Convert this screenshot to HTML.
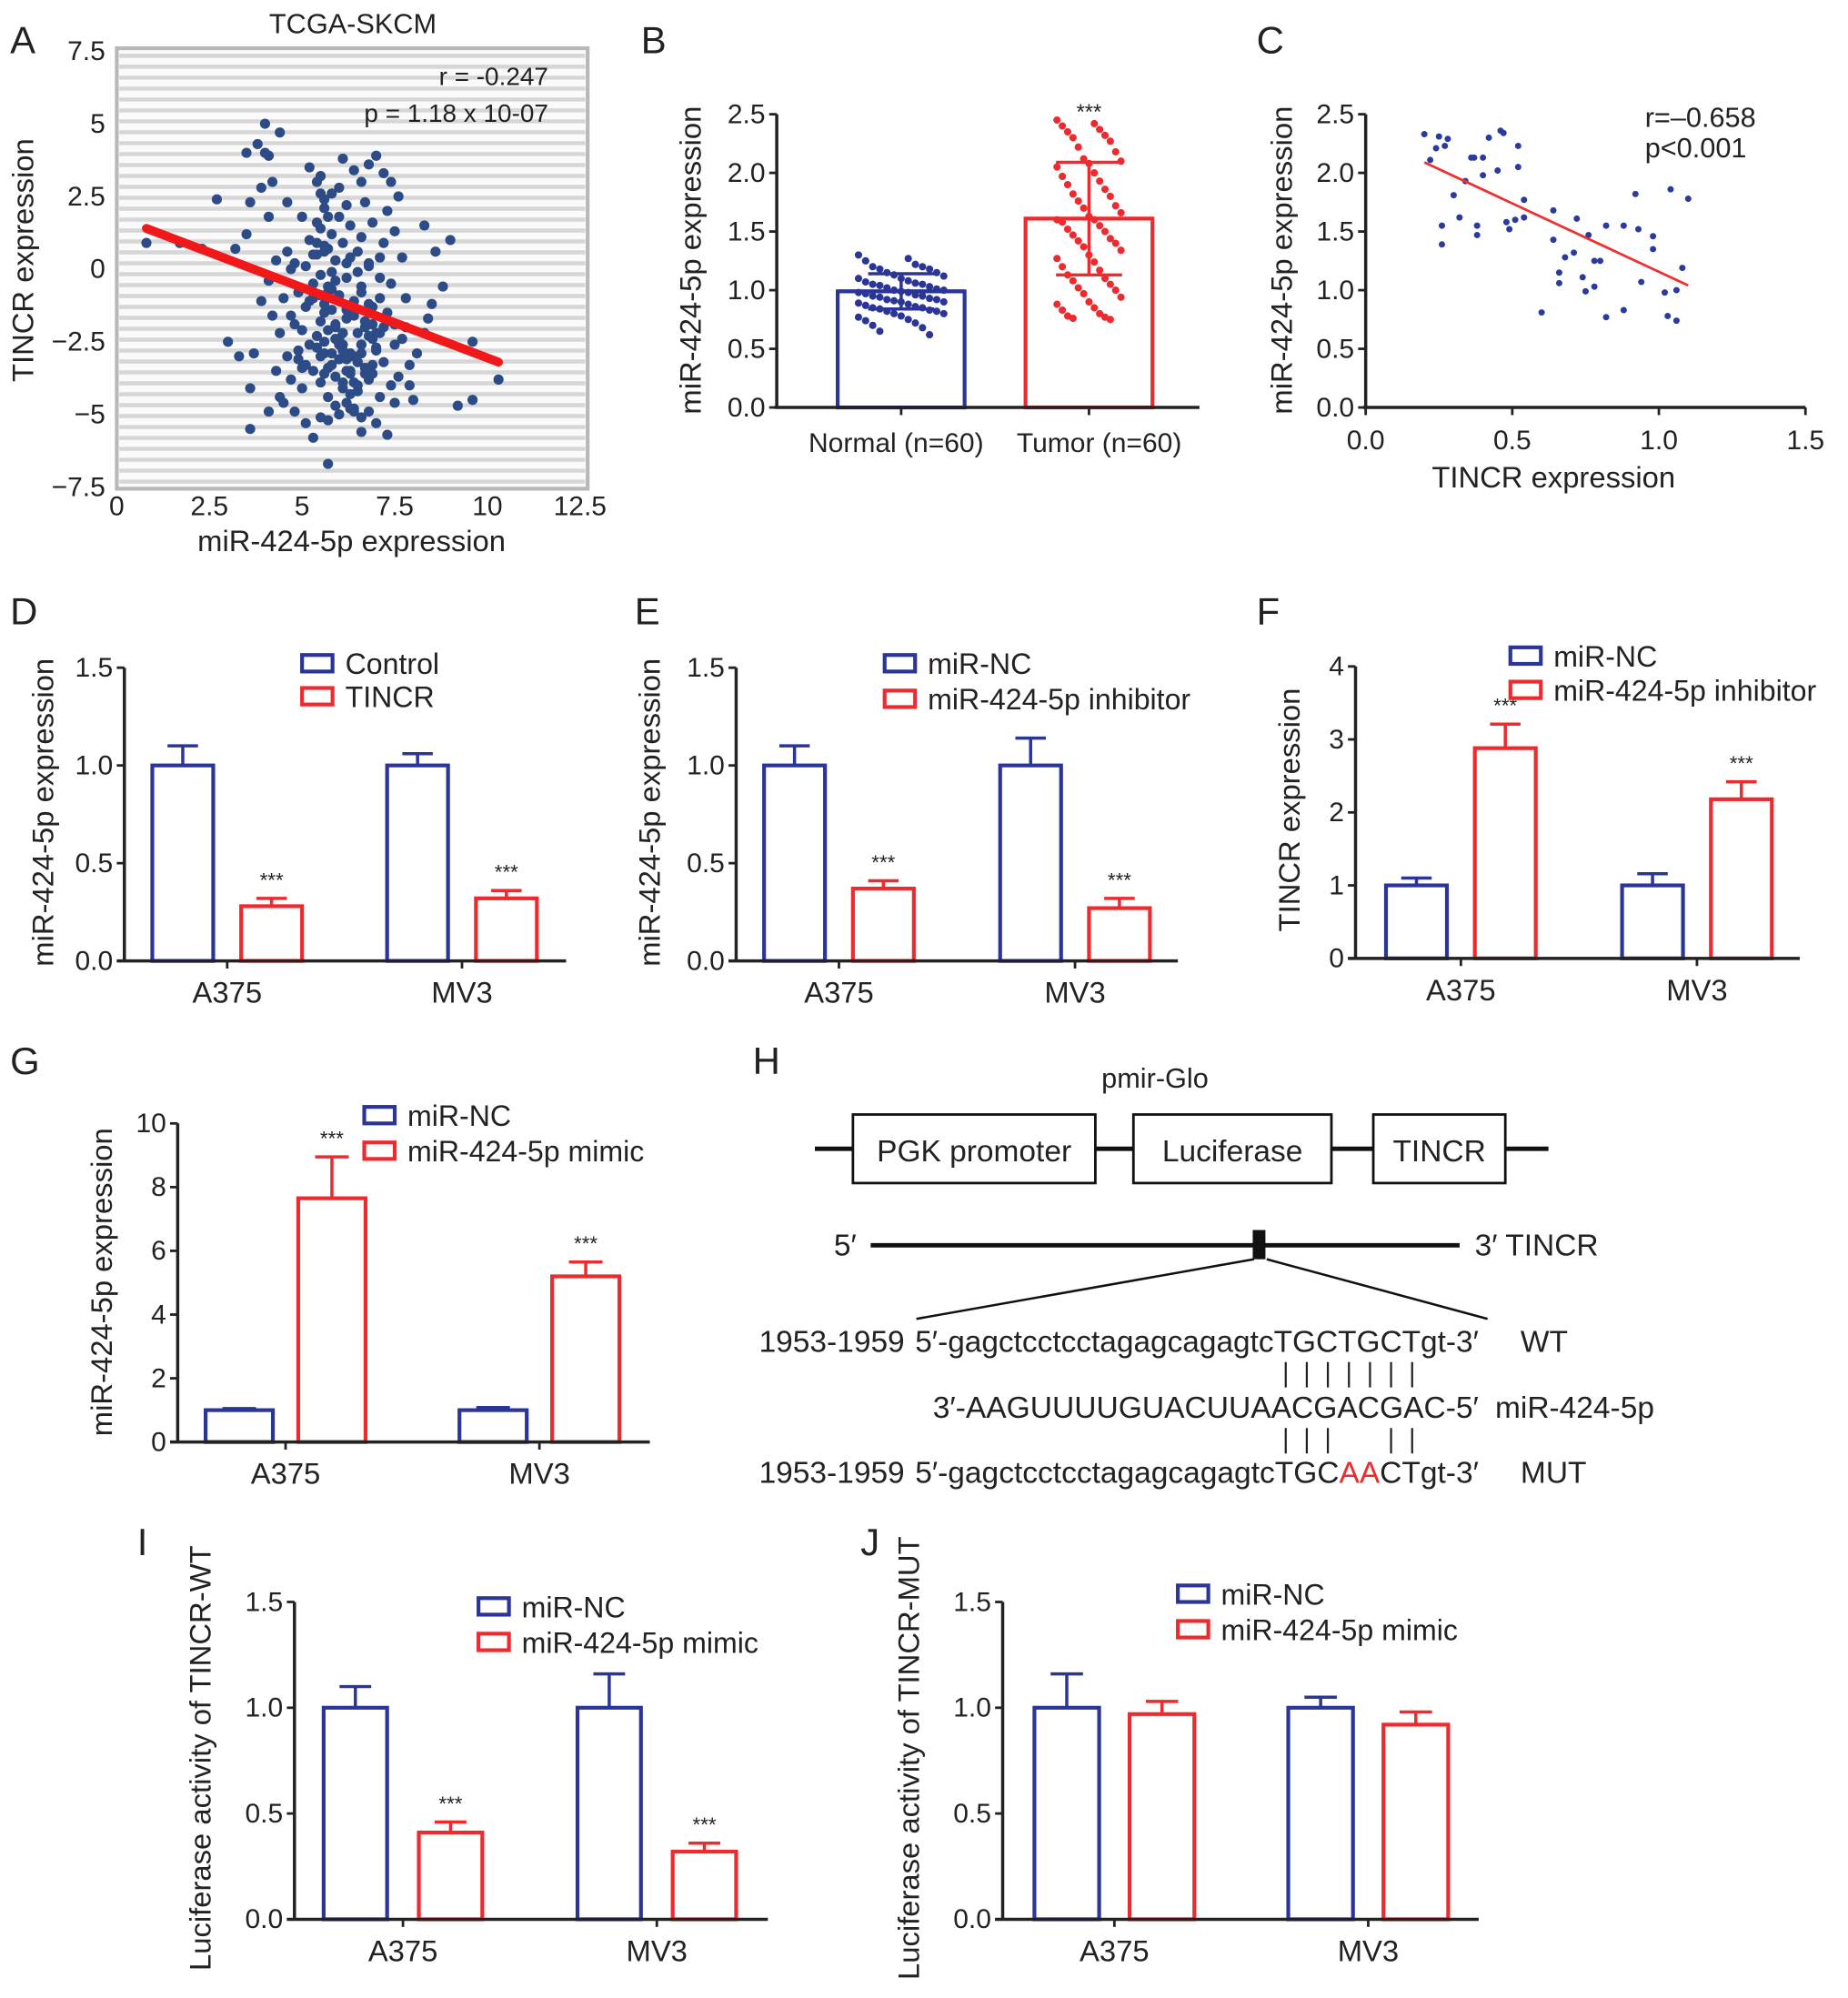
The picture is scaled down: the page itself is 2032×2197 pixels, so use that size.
<!DOCTYPE html>
<html><head><meta charset="utf-8"><style>
html,body{margin:0;padding:0;background:#fff;}
svg{display:block;font-family:"Liberation Sans",Arial,sans-serif;}
</style></head><body>
<svg id="fig" width="2032" height="2197" viewBox="0 0 1456 1574" preserveAspectRatio="none" xmlns="http://www.w3.org/2000/svg"></svg>
<script>
// ---------- Panel A data ----------
const aX=[0.8,1.7,2.3,2.7,3.2,3.0,3.3,3.6,3.6,3.7,3.5,3.6,3.5,3.8,4.0,4.0,4.1,4.4,3.9,4.1,4.2,4.6,4.1,4.3,4.4,4.5,4.6,4.2,4.4,3.9,4.1,4.3,4.6,4.8,4.9,4.7,4.9,5.0,4.8,5.1,5.3,5.7,5.5,5.2,5.4,5.5,5.6,5.4,5.2,5.3,5.5,5.3,5.6,5.4,5.6,5.3,5.5,5.7,5.9,5.8,5.9,5.7,5.9,6.0,5.8,6.1,6.0,6.2,6.3,6.1,6.2,6.4,6.1,6.3,6.5,6.2,6.6,6.5,6.7,6.4,6.6,6.8,6.7,6.9,6.6,6.8,6.6,6.9,7.0,6.8,7.1,7.0,7.3,7.0,7.2,7.4,7.3,7.2,7.4,7.3,7.5,7.2,7.6,7.5,7.6,7.5,7.7,7.8,7.8,7.9,7.9,8.0,8.1,8.3,8.4,8.5,8.3,8.6,8.8,9.0,9.6,9.2,9.6,10.3,5.0,5.1,5.0,5.7,6.0,6.2,6.3,6.5,6.7,6.9,7.1,7.1,5.8,6.0,5.6,6.3,6.6,6.1,5.9,5.4,4.7,4.5,6.8,7.4,5.2,6.4,
5.5,5.6,5.7,5.5,5.6,5.8,5.7,5.6,5.8,5.9,6.0,6.1,6.2,6.3,6.4,6.5,6.6,6.7,6.8,6.9,7.0,5.4,5.5,5.7,5.9,6.1,6.3,6.5,6.7,6.9,5.6,5.8,6.0,6.2,6.4,6.6,6.8,7.0,7.2,5.5,5.7,5.9,6.1,6.3,6.5,6.7,6.9,7.1,5.3,5.5,5.8,6.0,6.2,6.4,6.6,6.8,5.1,5.4,5.6,5.9,6.2,6.5,6.8,7.1,4.8,5.0,5.2,7.3,7.5,4.9,5.1,7.7,4.7,6.3,6.0,5.7,6.6,6.4];
const aY=[0.9,0.9,0.7,2.4,0.7,-2.5,-3.0,-5.5,-4.1,-2.9,1.2,2.3,4.0,4.3,5.0,4.0,3.9,4.7,2.8,1.8,3.0,2.3,-4.9,-3.5,-4.4,-4.6,-3.0,-1.6,-2.2,-1.1,-0.4,0.3,0.6,0.2,-0.8,-1.6,-2.8,-4.1,-4.9,-5.3,-5.8,-6.7,-5.1,3.5,3.0,2.6,2.1,1.6,1.0,0.5,-0.2,-1.0,-1.5,-2.3,-2.9,-3.5,-3.9,-4.4,-4.7,1.2,0.3,-0.6,-1.9,-2.6,-3.3,3.8,2.8,2.2,1.5,0.9,-0.3,-1.1,-3.9,-3.0,-2.2,-4.6,-5.6,-4.2,-3.4,3.4,3.0,3.6,2.3,1.6,1.1,0.2,-0.6,-1.3,-2.8,-3.8,-4.4,-5.3,-5.7,3.9,3.3,3.0,2.0,0.9,-0.5,-1.8,-2.6,-3.2,-3.7,-4.6,2.5,1.3,0.4,-1.0,-2.0,-3.3,-4.0,-4.5,-2.9,-2.2,-1.7,-1.2,1.5,0.6,-0.6,1.0,-2.5,-4.7,-4.5,-3.8,1.8,-1.3,-3.4,0.7,-0.9,-1.7,0.4,-0.1,-1.8,-2.4,-1.0,0.4,2.6,1.8,-3.6,-3.5,-2.9,-2.2,-0.4,0.9,-3.8,-1.0,-4.9,-4.0,-2.6,-4.9,
3.2,2.4,1.8,1.4,0.6,-0.1,-0.8,-1.2,-1.4,-2.0,-2.4,-2.8,-3.1,-3.6,-3.9,-3.2,-2.6,-2.0,-1.5,-1.9,-2.2,-2.7,-3.0,-3.4,-3.7,-4.1,-4.3,-4.0,-3.6,-3.3,-2.5,-2.9,-3.1,-3.5,-3.0,-2.6,-2.3,-2.7,-2.0,-1.8,-2.1,-2.4,-2.6,-2.9,-3.2,-3.4,-3.6,-2.2,-0.5,-0.9,-0.7,-1.1,-1.4,-1.6,-0.8,-1.2,0.1,0.5,0.8,0.3,0.2,0.6,0.1,-0.3,-1.9,-2.1,-1.1,-1.5,-1.9,-3.1,-3.3,-2.4,0.0,-4.8,-5.0,-5.2,-5.1,-4.8];
const aFitX=[0.8,10.3];
const aFitY=[1.4,-3.2];
const aXTicks=[0,2.5,5,7.5,10,12.5];
const aXTickLabels=["0","2.5","5","7.5","10","12.5"];
const aYTicks=[7.5,5,2.5,0,-2.5,-5,-7.5];
const aYTickLabels=["7.5","5","2.5","0","\u22122.5","\u22125","\u22127.5"];
// ---------- Panel B data ----------
const bCats=["Normal (n=60)","Tumor (n=60)"];
const bMeans=[0.99,1.61];
const bSD=[0.15,0.48];
const bNormal=[1.3,1.27,1.25,1.22,1.2,1.2,1.18,1.18,1.15,1.15,1.13,1.12,1.1,1.1,1.08,1.07,1.06,1.05,1.05,1.04,1.03,1.02,1.01,1.0,1.0,0.99,0.98,0.98,0.97,0.96,0.95,0.95,0.94,0.93,0.92,0.92,0.91,0.9,0.9,0.89,0.88,0.87,0.86,0.85,0.85,0.84,0.83,0.82,0.82,0.8,0.8,0.78,0.77,0.75,0.74,0.72,0.7,0.68,0.65,0.62];
const bTumor=[2.45,2.42,2.4,2.37,2.35,2.32,2.3,2.27,2.22,2.18,2.12,2.1,2.08,2.05,2.0,1.97,1.93,1.9,1.86,1.82,1.8,1.76,1.72,1.7,1.66,1.63,1.6,1.6,1.58,1.55,1.52,1.5,1.47,1.44,1.42,1.4,1.37,1.34,1.3,1.27,1.24,1.2,1.17,1.13,1.1,1.08,1.05,1.02,1.0,0.97,0.94,0.9,0.88,0.85,0.83,0.8,0.78,0.77,0.76,0.75];
const bYTicks=[0,0.5,1,1.5,2,2.5];
const bYTickLabels=["0.0","0.5","1.0","1.5","2.0","2.5"];
// ---------- Panel C data ----------
const cX=[0.2,0.22,0.24,0.25,0.28,0.27,0.3,0.26,0.26,0.34,0.32,0.36,0.37,0.38,0.38,0.4,0.4,0.42,0.45,0.46,0.47,0.52,0.52,0.48,0.49,0.51,0.54,0.54,0.6,0.64,0.64,0.66,0.66,0.68,0.71,0.72,0.74,0.75,0.76,0.78,0.78,0.8,0.82,0.82,0.88,0.88,0.92,0.93,0.94,0.98,0.98,1.02,1.03,1.04,1.06,1.06,1.08,1.1];
const cY=[2.33,2.11,2.21,2.31,2.29,2.23,1.81,1.55,1.39,1.93,1.62,2.13,2.13,1.55,1.47,2.13,1.98,2.3,2.02,2.36,2.34,2.23,2.05,1.58,1.52,1.6,1.77,1.62,0.81,1.68,1.43,1.15,1.06,1.28,1.32,1.61,1.11,0.99,1.47,1.03,1.25,1.25,1.55,0.77,0.83,1.55,1.82,1.52,1.07,1.46,1.35,0.98,0.78,1.86,1.0,0.74,1.19,1.78];
const cFitX=[0.2,1.1];
const cFitY=[2.09,1.04];
const cXTicks=[0,0.5,1,1.5];
const cXTickLabels=["0.0","0.5","1.0","1.5"];
const cYTicks=[0,0.5,1,1.5,2,2.5];
const cYTickLabels=["0.0","0.5","1.0","1.5","2.0","2.5"];
// ---------- Bar panels ----------
const barCats=["A375","MV3"];
const dCtrl=[1.0,1.0], dCtrlErr=[0.1,0.06], dTin=[0.28,0.32], dTinErr=[0.04,0.04];
const eNC=[1.0,1.0], eNCErr=[0.1,0.14], eInh=[0.37,0.27], eInhErr=[0.04,0.05];
const fNC=[1.0,1.0], fNCErr=[0.1,0.16], fInh=[2.88,2.18], fInhErr=[0.33,0.24];
const gNC=[1.0,1.0], gNCErr=[0.05,0.08], gMim=[7.65,5.2], gMimErr=[1.3,0.45];
const iNC=[1.0,1.0], iNCErr=[0.1,0.16], iMim=[0.41,0.32], iMimErr=[0.05,0.04];
const jNC=[1.0,1.0], jNCErr=[0.16,0.05], jMim=[0.97,0.92], jMimErr=[0.06,0.06];
const tick15=[0,0.5,1,1.5], tick15L=["0.0","0.5","1.0","1.5"];
const tick4=[0,1,2,3,4], tick4L=["0","1","2","3","4"];
const tick10=[0,2,4,6,8,10], tick10L=["0","2","4","6","8","10"];

const NS="http://www.w3.org/2000/svg";
const svg=document.getElementById('fig');
const BLUE="#2b3598", RED="#ee2a2e", DOT="#2c4b87";
const TK=21.5, AT=23.5, LG=23;
function el(tag,attrs,parent){const e=document.createElementNS(NS,tag);for(const k in attrs)e.setAttribute(k,attrs[k]);(parent||svg).appendChild(e);return e;}
function txt(s,x,y,size,anchor,parent,extra){const t=el('text',Object.assign({x:x,y:y,'font-size':size,'text-anchor':anchor||'start',fill:'#222'},extra||{}),parent);t.textContent=s;return t;}
function grp(name){const g=el('g',{});return g;}

const letters=[["A",8,42],["B",505,42],["C",990,42],["D",8,492],["E",500,492],["F",990,492],["G",8,846],["H",593,846],["I",108,1225],["J",678,1225]];
letters.forEach(l=>{const t=txt(l[0],l[1],l[2],30,'start');});

function yTitle(s,x,y,g){const t=txt(s,x,y,AT,'middle',g,{transform:'rotate(-90 '+x+' '+y+')'});return t;}

// ===== Panel A =====
(function(){
 const g=grp('panel-a-scatter');
 const L=92,R=463,T=38,B=385;
 const sx=v=>92+v*29.2;
 const sy=v=>212-v*22.9;
 el('rect',{x:L,y:T,width:R-L,height:B-T,fill:'#fafafa',stroke:'#b8b8b8','stroke-width':3},g);
 for(let y=T+6;y<B;y+=8.6){el('line',{x1:L+2,x2:R-2,y1:y,y2:y,stroke:'#d6d6d6','stroke-width':3.2},g);}
 aXTicks.forEach((v,i)=>{const t=txt(aXTickLabels[i],sx(v),406,TK,'middle',g);});
 aYTicks.forEach((v,i)=>{const t=txt(aYTickLabels[i],83,sy(v)+7,TK,'end',g);});
 const tt=txt('TCGA-SKCM',278,26,22,'middle',g);
 const xt=txt('miR-424-5p expression',277,434,AT,'middle',g);
 yTitle('TINCR expression',26,205,g);
 aX.forEach((x,i)=>{const c=el('circle',{cx:sx(x),cy:sy(aY[i]),r:4,fill:DOT},g);});
 const ln=el('line',{x1:sx(aFitX[0]),y1:sy(aFitY[0]),x2:sx(aFitX[1]),y2:sy(aFitY[1]),stroke:'#f01818','stroke-width':7,'stroke-linecap':'round'},g);
 
 const s1=txt('r = -0.247',432,67,20,'end',g);
 const s2=txt('p = 1.18 x 10-07',432,96,20,'end',g);
})();

// ===== Panel B =====
(function(){
 const g=grp('panel-b-bar-dot');
 const ax=612,y0=321,top=90;
 const sy=v=>y0-v*(y0-top)/2.5;
 const centers=[710,858];
 const labelX=[706,866];
 const cols=[BLUE,RED];
 bMeans.forEach((m,i)=>{
  const r=el('rect',{x:centers[i]-50,y:sy(m),width:100,height:y0-sy(m),fill:'none',stroke:cols[i],'stroke-width':3},g);
  
 });
 [bNormal,bTumor].forEach((arr,k)=>{
  arr.forEach((v,i)=>{const off=((i*7)%13-6)*(k?4.2:5.6);const c=el('circle',{cx:centers[k]+off,cy:sy(v),r:2.9,fill:cols[k]},g);});
 });
 bMeans.forEach((m,i)=>{
  const c=centers[i],hi=sy(m+bSD[i]),lo=sy(m-bSD[i]);
  el('line',{x1:c,x2:c,y1:hi,y2:lo,stroke:cols[i],'stroke-width':2.5},g);
  el('line',{x1:c-26,x2:c+26,y1:hi,y2:hi,stroke:cols[i],'stroke-width':2.5},g);
  el('line',{x1:c-26,x2:c+26,y1:lo,y2:lo,stroke:cols[i],'stroke-width':2.5},g);
  el('line',{x1:c-50,x2:c+50,y1:sy(m),y2:sy(m),stroke:cols[i],'stroke-width':3},g);
 });
 const st=txt('***',858,sy(2.5)+4,17,'middle',g);
 el('line',{x1:ax,x2:ax,y1:top,y2:y0+1,stroke:'#222','stroke-width':2.5},g);
 el('line',{x1:ax-2,x2:945,y1:y0,y2:y0,stroke:'#222','stroke-width':2.5},g);
 bYTicks.forEach((v,i)=>{el('line',{x1:ax-6,x2:ax,y1:sy(v),y2:sy(v),stroke:'#222','stroke-width':2},g);const t=txt(bYTickLabels[i],ax-9,sy(v)+7,TK,'end',g);});
 bCats.forEach((c,i)=>{el('line',{x1:centers[i],x2:centers[i],y1:y0,y2:y0+6,stroke:'#222','stroke-width':2},g);const t=txt(c,labelX[i],356,21.5,'middle',g);});
 yTitle('miR-424-5p expression',552,205,g);
})();

// ===== Panel C =====
(function(){
 const g=grp('panel-c-scatter');
 const ax=1076,y0=321,top=90;
 const sx=v=>ax+v*231;
 const sy=v=>y0-v*(y0-top)/2.5;
 cX.forEach((x,i)=>{const c=el('circle',{cx:sx(x),cy:sy(cY[i]),r:2.5,fill:'#2a3a9e'},g);});
 const ln=el('line',{x1:sx(cFitX[0]),y1:sy(cFitY[0]),x2:sx(cFitX[1]),y2:sy(cFitY[1]),stroke:'#ee3030','stroke-width':2},g);
 
 el('line',{x1:ax,x2:ax,y1:top,y2:y0+1,stroke:'#222','stroke-width':2.5},g);
 el('line',{x1:ax-2,x2:sx(1.5),y1:y0,y2:y0,stroke:'#222','stroke-width':2.5},g);
 cYTicks.forEach((v,i)=>{el('line',{x1:ax-6,x2:ax,y1:sy(v),y2:sy(v),stroke:'#222','stroke-width':2},g);const t=txt(cYTickLabels[i],ax-9,sy(v)+7,TK,'end',g);});
 cXTicks.forEach((v,i)=>{el('line',{x1:sx(v),x2:sx(v),y1:y0,y2:y0+6,stroke:'#222','stroke-width':2},g);const t=txt(cXTickLabels[i],sx(v),354,TK,'middle',g);});
 const xt=txt('TINCR expression',1224,384,AT,'middle',g);
 yTitle('miR-424-5p expression',1018,205,g);
 const s1=txt('r=\u20130.658',1296,100,22,'start',g);
 const s2=txt('p<0.001',1296,124,22,'start',g);
})();

// ===== generic bar chart =====
function barChart(o){
 const g=grp(o.name);
 const sy=v=>o.y0-v*(o.y0-o.top)/o.ymax;
 const series=[[o.s1,o.e1,BLUE],[o.s2,o.e2,RED]];
 barCats.forEach((cat,gi)=>{
  series.forEach((s,si)=>{
   const x=o.bx0+gi*o.step+si*o.off, v=s[0][gi], e=s[1][gi], cx=x+o.bw/2;
   el('line',{x1:cx,x2:cx,y1:sy(v),y2:sy(v+e),stroke:s[2],'stroke-width':2.5},g);
   el('line',{x1:cx-o.bw*0.25,x2:cx+o.bw*0.25,y1:sy(v+e),y2:sy(v+e),stroke:s[2],'stroke-width':2.5},g);
   const r=el('rect',{x:x,y:sy(v),width:o.bw,height:o.y0-sy(v),fill:'none',stroke:s[2],'stroke-width':3},g);
   
   
   if(si==1 && o.stars){const t=txt('***',cx,sy(v+e)-9,16,'middle',g);}
  });
  const tc=o.bx0+gi*o.step+(o.off+o.bw)/2;
  el('line',{x1:tc,x2:tc,y1:o.y0,y2:o.y0+6,stroke:'#222','stroke-width':2},g);
  const t=txt(cat,tc,o.y0+33,AT,'middle',g);
 });
 el('line',{x1:o.ax,x2:o.ax,y1:o.top,y2:o.y0+1,stroke:'#222','stroke-width':2.5},g);
 el('line',{x1:o.ax-6,x2:o.xend,y1:o.y0,y2:o.y0,stroke:'#222','stroke-width':2.5},g);
 o.ticks.forEach((v,i)=>{el('line',{x1:o.ax-6,x2:o.ax,y1:sy(v),y2:sy(v),stroke:'#222','stroke-width':2},g);const t=txt(o.tickL[i],o.ax-9,sy(v)+7,TK,'end',g);});
 yTitle(o.ytitle,o.ytx,o.yty,g);
 [[o.leg1,BLUE,0],[o.leg2,RED,1]].forEach(l=>{
  const lg=el('g',{},g);
  el('rect',{x:o.lx,y:o.ly+l[2]*o.lgap-12,width:24,height:13,fill:'none',stroke:l[1],'stroke-width':3},lg);
  txt(l[0],o.lx+34,o.ly+l[2]*o.lgap+3,LG,'start',lg);
 });
}
barChart({name:'panel-d-bar-chart',s1:dCtrl,e1:dCtrlErr,s2:dTin,e2:dTinErr,stars:true,ax:98,y0:757,top:526,ymax:1.5,xend:446,bx0:120,bw:48,off:70,step:185,ticks:tick15,tickL:tick15L,ytitle:'miR-424-5p expression',ytx:42,yty:640,leg1:'Control',leg2:'TINCR',lx:238,ly:528,lgap:26});
barChart({name:'panel-e-bar-chart',s1:eNC,e1:eNCErr,s2:eInh,e2:eInhErr,stars:true,ax:580,y0:757,top:526,ymax:1.5,xend:928,bx0:602,bw:48,off:70,step:186,ticks:tick15,tickL:tick15L,ytitle:'miR-424-5p expression',ytx:520,yty:640,leg1:'miR-NC',leg2:'miR-424-5p inhibitor',lx:697,ly:528,lgap:28});
barChart({name:'panel-f-bar-chart',s1:fNC,e1:fNCErr,s2:fInh,e2:fInhErr,stars:true,ax:1068,y0:755,top:525,ymax:4,xend:1418,bx0:1092,bw:48,off:70,step:186,ticks:tick4,tickL:tick4L,ytitle:'TINCR expression',ytx:1024,yty:638,leg1:'miR-NC',leg2:'miR-424-5p inhibitor',lx:1190,ly:522,lgap:27});
barChart({name:'panel-g-bar-chart',s1:gNC,e1:gNCErr,s2:gMim,e2:gMimErr,stars:true,ax:140,y0:1136,top:885,ymax:10,xend:512,bx0:162,bw:53,off:73,step:200,ticks:tick10,tickL:tick10L,ytitle:'miR-424-5p expression',ytx:88,yty:1010,leg1:'miR-NC',leg2:'miR-424-5p mimic',lx:287,ly:884,lgap:28});
barChart({name:'panel-i-bar-chart',s1:iNC,e1:iNCErr,s2:iMim,e2:iMimErr,stars:true,ax:232,y0:1512,top:1262,ymax:1.5,xend:605,bx0:255,bw:50,off:75,step:200,ticks:tick15,tickL:tick15L,ytitle:'Luciferase activity of TINCR-WT',ytx:166,yty:1385,leg1:'miR-NC',leg2:'miR-424-5p mimic',lx:377,ly:1271,lgap:28});
barChart({name:'panel-j-bar-chart',s1:jNC,e1:jNCErr,s2:jMim,e2:jMimErr,stars:false,ax:790,y0:1512,top:1262,ymax:1.5,xend:1165,bx0:815,bw:51,off:75,step:200,ticks:tick15,tickL:tick15L,ytitle:'Luciferase activity of TINCR-MUT',ytx:724,yty:1385,leg1:'miR-NC',leg2:'miR-424-5p mimic',lx:928,ly:1261,lgap:28});

// ===== Panel H =====
(function(){
 const g=grp('panel-h-construct-diagram');
 const F=24;
 txt('pmir-Glo',910,857,22,'middle',g);
 el('line',{x1:642,x2:1220,y1:905,y2:905,stroke:'#111','stroke-width':3.5},g);
 [[672,863,'PGK promoter'],[893,1049,'Luciferase'],[1082,1186,'TINCR']].forEach(b=>{
  const bg=el('g',{},g);
  el('rect',{x:b[0],y:878,width:b[1]-b[0],height:54,fill:'#fff',stroke:'#111','stroke-width':2},bg);
  txt(b[2],(b[0]+b[1])/2,915,F,'middle',bg);
 });
 txt('5\u2032',657,989,F,'start',g);
 el('line',{x1:686,x2:1150,y1:981,y2:981,stroke:'#111','stroke-width':3.5},g);
 el('rect',{x:987,y:969,width:10,height:23,fill:'#111'},g);
 txt('3\u2032  TINCR',1162,989,F,'start',g,{'xml:space':'preserve'});
 el('line',{x1:988,y1:992,x2:722,y2:1039,stroke:'#111','stroke-width':1.8},g);
 el('line',{x1:998,y1:992,x2:1172,y2:1039,stroke:'#111','stroke-width':1.8},g);
 txt('1953-1959',598,1065,F,'start',g);
 txt('5\u2032-gagctcctcctagagcagagtcTGCTGCTgt-3\u2032',721,1065,F,'start',g,{textLength:444,lengthAdjust:'spacingAndGlyphs'});
 txt('WT',1198,1065,F,'start',g);
 [0,1,2,3,4,5,6].forEach(k=>el('line',{x1:1013+k*16.6,x2:1013+k*16.6,y1:1073,y2:1093,stroke:'#222','stroke-width':1.6},g));
 txt('3\u2032-AAGUUUUGUACUUAACGACGAC-5\u2032',735,1117,F,'start',g,{textLength:430,lengthAdjust:'spacingAndGlyphs'});
 txt('miR-424-5p',1178,1117,F,'start',g);
 [0,1,2,5,6].forEach(k=>el('line',{x1:1013+k*16.6,x2:1013+k*16.6,y1:1125,y2:1145,stroke:'#222','stroke-width':1.6},g));
 txt('1953-1959',598,1168,F,'start',g);
 const m=txt('',721,1168,F,'start',g,{textLength:444,lengthAdjust:'spacingAndGlyphs'});
 const parts=[['5\u2032-gagctcctcctagagcagagtcTGC','#222'],['AA','#ee2a2e'],['CTgt-3\u2032','#222']];
 parts.forEach(p=>{const ts=document.createElementNS(NS,'tspan');ts.setAttribute('fill',p[1]);ts.textContent=p[0];m.appendChild(ts);});
 txt('MUT',1198,1168,F,'start',g);
})();
</script>
</body></html>
